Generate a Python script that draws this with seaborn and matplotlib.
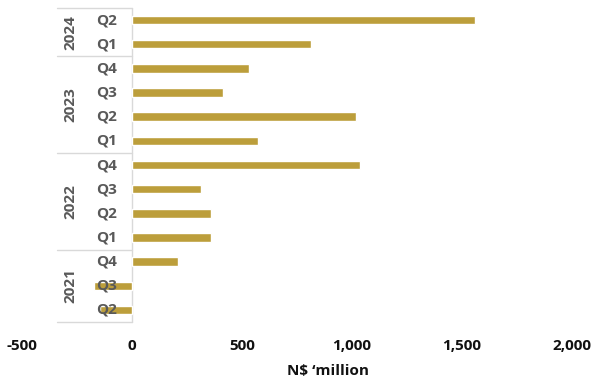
import matplotlib
matplotlib.use("Agg")
import matplotlib.pyplot as plt
import seaborn as sns
import pandas as pd
from matplotlib.ticker import FuncFormatter

# Quarterly values, newest first (N$ million)
years = ["2024", "2024", "2023", "2023", "2023", "2023",
         "2022", "2022", "2022", "2022", "2021", "2021", "2021"]
quarters = ["Q2", "Q1", "Q4", "Q3", "Q2", "Q1",
            "Q4", "Q3", "Q2", "Q1", "Q4", "Q3", "Q2"]
values = [1560, 814, 532, 414, 1018, 573,
          1036, 314, 359, 357, 209, -173, -145]
x_ticks = [-500, 0, 500, 1000, 1500, 2000]

BAR = "#BC9E3B"
TEXT = "#595959"
DARK = "#111111"
GRID = "#D9D9D9"
FS = 11

sns.set_theme(style="white")
plt.rcParams["font.family"] = ["Open Sans", "DejaVu Sans"]

df = pd.DataFrame({"period": [f"{y} {q}" for y, q in zip(years, quarters)],
                   "value": values})

fig = plt.figure(figsize=(5.94, 3.87), dpi=100)
ax = fig.add_axes([22 / 594, 1 - 322 / 387, 550 / 594, 314 / 387])

sns.barplot(data=df, y="period", x="value", color=BAR, width=0.35,
            orient="h", ax=ax, zorder=2, saturation=1)

ax.set_xlim(x_ticks[0], x_ticks[-1])
ax.set_ylim(len(df) - 0.5, -0.5)
ax.set_xticks(x_ticks)
ax.xaxis.set_major_formatter(FuncFormatter(lambda v, p: f"{v:,.0f}"))
ax.tick_params(axis="x", length=0, pad=12, labelsize=FS, labelcolor=DARK)
for t in ax.get_xticklabels():
    t.set_fontweight("bold")

# quarter labels sit just left of the zero line, drawn over the bars
ax.set_yticks(range(len(df)))
ax.set_yticklabels([])
ax.tick_params(axis="y", length=0)
for i, q in enumerate(quarters):
    ax.text(-68, i, q, ha="right", va="center", fontsize=FS,
            fontweight="bold", color=TEXT, zorder=4)

for s in ax.spines.values():
    s.set_visible(False)

# category axis line at zero and year group separators
ax.plot([0, 0], [-0.5, len(df) - 0.5], color=GRID, lw=1, zorder=1,
        clip_on=False)
starts = [i for i in range(len(years)) if i == 0 or years[i] != years[i - 1]]
bounds = starts + [len(years)]
for b in bounds:
    ax.plot([-341, 0], [b - 0.5, b - 0.5], color=GRID, lw=1, zorder=1,
            clip_on=False)
for a, b in zip(bounds[:-1], bounds[1:]):
    ax.text(-282, (a + b - 1) / 2, years[a], rotation=90, ha="center",
            va="center", fontsize=FS, fontweight="bold", color=TEXT,
            zorder=4)

ax.set_ylabel("")
ax.set_xlabel("N$ \u2018million", fontsize=FS, fontweight="bold", color=DARK)
ax.xaxis.set_label_coords(0.556, -0.135)

fig.savefig("out.png", dpi=100)
